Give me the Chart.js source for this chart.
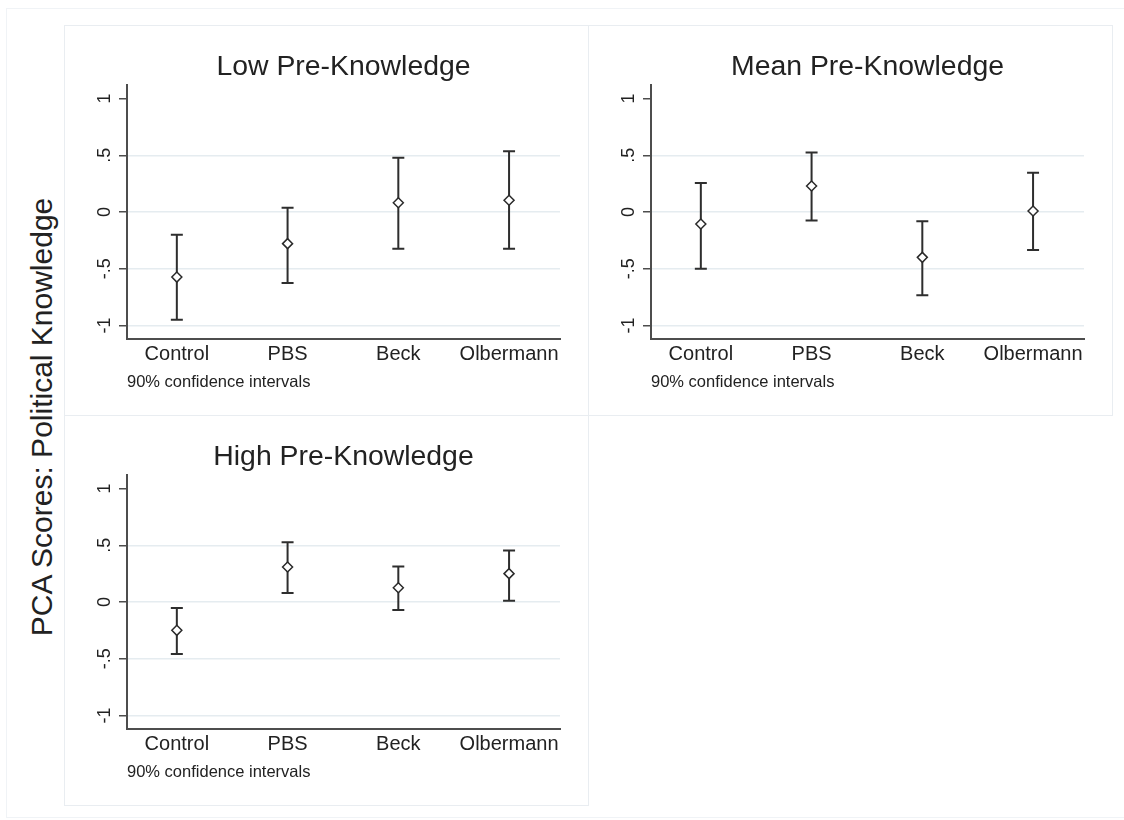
<!DOCTYPE html>
<html>
<head>
<meta charset="utf-8">
<script src="https://cdn.jsdelivr.net/npm/chart.js@4.4.1/dist/chart.umd.min.js"></script>
<style>
  html, body { margin:0; padding:0; background:#fff; width:1124px; height:820px; overflow:hidden;
    font-family:"Liberation Sans", Arial, Helvetica, sans-serif; }
  .frame { position:absolute; border:1px solid #e9edf1; box-sizing:border-box; }
  .panel { position:absolute; }
  #ytitle { position:absolute; left:42px; top:417px; transform:translate(-50%,-50%) rotate(-90deg);
    white-space:nowrap; font-size:30px; color:#222; }
</style>
</head>
<body>
<div class="frame" style="left:6px;top:8px;width:1130px;height:810px;border-color:#f0f3f6"></div>
<div class="frame" style="left:64px;top:25px;width:525px;height:391px"></div>
<div class="frame" style="left:588px;top:25px;width:525px;height:391px"></div>
<div class="frame" style="left:64px;top:415px;width:525px;height:391px"></div>

<canvas id="panelLow"  class="panel" style="left:64px;top:25px"  width="524" height="390"></canvas>
<canvas id="panelMean" class="panel" style="left:588px;top:25px" width="524" height="390"></canvas>
<canvas id="panelHigh" class="panel" style="left:64px;top:415px" width="524" height="390"></canvas>

<div id="ytitle">PCA Scores: Political Knowledge</div>

<script>
// Treatment groups on the horizontal axis
const categories = ['Control', 'PBS', 'Beck', 'Olbermann'];

// Vertical axis ticks and their printed labels
const yTickValues = [-1, -0.5, 0, 0.5, 1];
const yTickLabels = ['-1', '-.5', '0', '.5', '1'];

// Low pre-knowledge: point estimates and 90% interval bounds
const lowEstimate = [-0.574, -0.279, 0.082, 0.103];
const lowLower    = [-0.950, -0.626, -0.324, -0.324];
const lowUpper    = [-0.200, 0.038, 0.479, 0.535];

// Mean pre-knowledge
const meanEstimate = [-0.106, 0.229, -0.400, 0.009];
const meanLower    = [-0.500, -0.076, -0.735, -0.335];
const meanUpper    = [0.256, 0.524, -0.082, 0.347];

// High pre-knowledge
const highEstimate = [-0.250, 0.309, 0.126, 0.250];
const highLower    = [-0.459, 0.079, -0.071, 0.012];
const highUpper    = [-0.053, 0.526, 0.312, 0.453];

const FONT = '"Liberation Sans", Arial, Helvetica, sans-serif';
const INK = '#222';
const AXIS = '#4d4d4d';

// Vertical interval lines with end caps, drawn beneath the markers
const errorBars = {
  id: 'errorBars',
  beforeDatasetsDraw(chart, args, opts) {
    const { ctx, scales: { x, y } } = chart;
    const ds = chart.data.datasets[0];
    ctx.save();
    ctx.strokeStyle = opts.color;
    ctx.lineWidth = opts.width;
    ds.lower.forEach((lo, i) => {
      const px = x.getPixelForValue(ds.data[i].x);
      const yl = y.getPixelForValue(lo);
      const yh = y.getPixelForValue(ds.upper[i]);
      ctx.beginPath();
      ctx.moveTo(px, yl); ctx.lineTo(px, yh);
      ctx.moveTo(px - opts.cap, yl); ctx.lineTo(px + opts.cap, yl);
      ctx.moveTo(px - opts.cap, yh); ctx.lineTo(px + opts.cap, yh);
      ctx.stroke();
    });
    ctx.restore();
  }
};

// Y tick labels written sideways, reading bottom to top
const sidewaysTicks = {
  id: 'sidewaysTicks',
  afterDraw(chart, args, opts) {
    const { ctx, scales: { y }, chartArea } = chart;
    ctx.save();
    ctx.font = opts.size + 'px ' + FONT;
    ctx.fillStyle = opts.color;
    ctx.textAlign = 'center';
    ctx.textBaseline = 'middle';
    y.ticks.forEach(t => {
      const idx = yTickValues.indexOf(t.value);
      const py = y.getPixelForValue(t.value);
      ctx.save();
      ctx.translate(chartArea.left - opts.offset, py);
      ctx.rotate(-Math.PI / 2);
      ctx.fillText(yTickLabels[idx], 0, 0);
      ctx.restore();
    });
    ctx.restore();
  }
};

function makePanel(id, title, est, lower, upper) {
  const points = est.map((v, i) => ({ x: i + 1, y: v }));
  return new Chart(document.getElementById(id), {
    type: 'scatter',
    data: {
      datasets: [{
        data: points,
        lower: lower,
        upper: upper,
        pointStyle: 'rectRot',
        pointRadius: 5,
        pointBorderWidth: 1.5,
        pointBackgroundColor: '#fff',
        pointBorderColor: '#2a2a2a',
        showLine: false
      }]
    },
    options: {
      responsive: false,
      animation: false,
      events: [],
      layout: { padding: { top: 10, left: 17, right: 28, bottom: 22.2 } },
      plugins: {
        legend: { display: false },
        tooltip: { enabled: false },
        title: {
          display: true, text: title, fullSize: false,
          font: { size: 28.4, family: FONT, weight: 'normal' }, color: INK,
          padding: { top: 14.8, bottom: 1.1 }
        },
        subtitle: {
          display: true, text: '90% confidence intervals', position: 'bottom',
          align: 'start', fullSize: false,
          font: { size: 16.5, family: FONT }, color: INK,
          padding: { top: 4, bottom: 0 }
        },
        errorBars: { color: '#2e2e2e', width: 2, cap: 6 },
        sidewaysTicks: { size: 18, color: INK, offset: 22 }
      },
      scales: {
        x: {
          type: 'linear', min: 0.55, max: 4.46,
          afterBuildTicks: s => { s.ticks = categories.map((c, i) => ({ value: i + 1 })); },
          afterFit: s => { s.height = 30; },
          ticks: {
            callback: v => categories[v - 1],
            font: { size: 20, family: FONT }, color: INK,
            padding: 3, autoSkip: false, maxRotation: 0
          },
          grid: { display: false, drawTicks: false },
          border: { color: AXIS, width: 2 }
        },
        y: {
          min: -1.12, max: 1.12,
          afterBuildTicks: s => { s.ticks = yTickValues.map(v => ({ value: v })); },
          afterFit: s => { s.width = 46; },
          ticks: { display: false },
          grid: {
            color: c => (c.tick && c.tick.value === 1) ? 'rgba(0,0,0,0)' : '#e5ecf0',
            lineWidth: 1.5, tickLength: 8, tickColor: AXIS, tickWidth: 1.5
          },
          border: { color: AXIS, width: 2 }
        }
      }
    },
    plugins: [errorBars, sidewaysTicks]
  });
}

makePanel('panelLow',  'Low Pre-Knowledge',  lowEstimate,  lowLower,  lowUpper);
makePanel('panelMean', 'Mean Pre-Knowledge', meanEstimate, meanLower, meanUpper);
makePanel('panelHigh', 'High Pre-Knowledge', highEstimate, highLower, highUpper);
</script>
</body>
</html>
